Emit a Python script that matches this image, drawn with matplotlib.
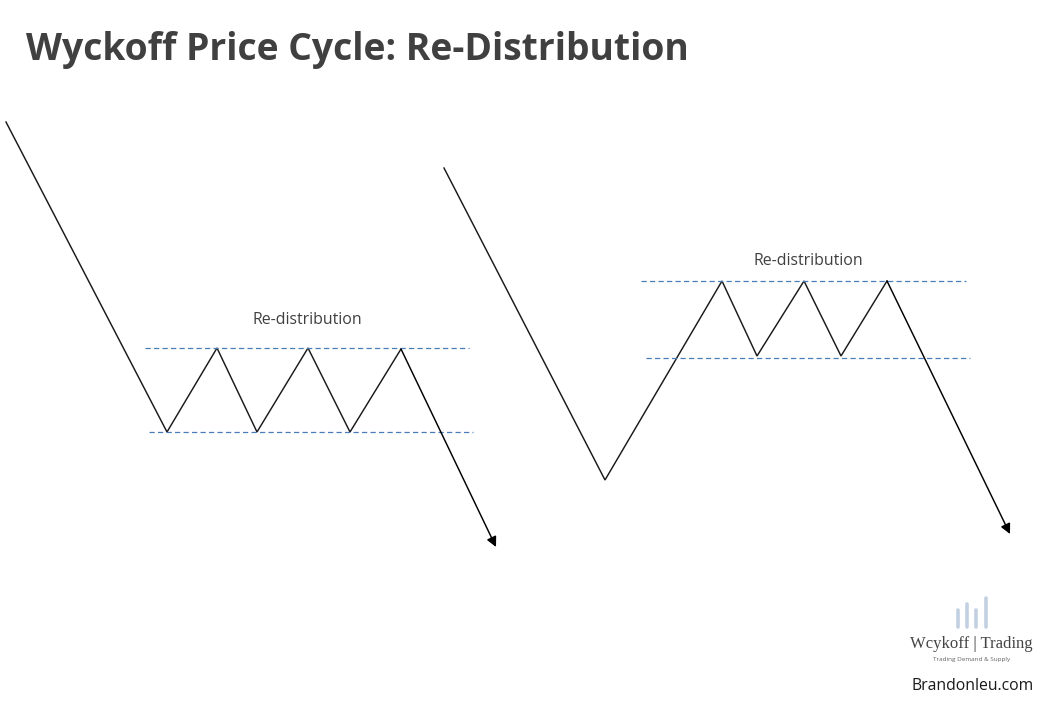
import matplotlib
matplotlib.use('Agg')
import matplotlib.pyplot as plt

# price paths (pixel coordinates)
left_x = [6, 167, 217, 257, 308, 350, 401, 496]
left_y = [122, 432, 348, 432, 348, 432, 349, 547]
right_x = [444, 605, 722, 757, 804, 841, 887, 1010]
right_y = [168, 480, 281, 356, 281, 356, 281, 534]

# dashed range lines: x start, x end, y
range_x0 = [145, 149, 641, 646]
range_x1 = [469, 473, 966, 970]
range_y = [348, 432, 281, 358]

label_text = 'Re-distribution'
label_x = [307, 808]
label_y = [320, 261]

# logo bars
logo_x = [958, 966.5, 976, 985.5]
logo_top = [610, 604, 610, 598]
logo_bottom = 627

title_text = 'Wyckoff Price Cycle: Re-Distribution'

fig = plt.figure(figsize=(10.54, 7.18), dpi=100)
ax = fig.add_axes([0, 0, 1, 1])
ax.set_xlim(0, 1054)
ax.set_ylim(718, 0)
ax.axis('off')

ax.text(26, 50, title_text, fontsize=26.85, fontweight='bold', family='Open Sans',
        color='#404040', va='center', ha='left')

# the two price paths, last segment carries the arrow
for xs, ys in [(left_x, left_y), (right_x, right_y)]:
    ax.plot(xs[:-1], ys[:-1], color='#1a1a1a', lw=1.05, solid_joinstyle='miter')
    ax.annotate('', xy=(xs[-1], ys[-1]), xytext=(xs[-2], ys[-2]),
                arrowprops=dict(arrowstyle='-|>', color='black', lw=1.05,
                                mutation_scale=15, shrinkA=0, shrinkB=0))

for x0, x1, y in zip(range_x0, range_x1, range_y):
    ax.plot([x0, x1], [y, y], color='#4a7ebb', lw=0.9, dashes=(4.2, 2.6))

for x, y in zip(label_x, label_y):
    ax.text(x, y, label_text, fontsize=11.4, family='Open Sans', color='#404040',
            ha='center', va='center')

# logo in the corner
for x, top in zip(logo_x, logo_top):
    ax.plot([x, x], [top, logo_bottom], color='#c3d0e2', lw=2.6, solid_capstyle='round')
ax.text(971.5, 644, 'Wcykoff | Trading', fontsize=12, family='Liberation Serif',
        color='#444444', ha='center', va='center')
ax.text(972, 659, 'Trading Demand & Supply', fontsize=4.6, family='Open Sans',
        color='#666666', ha='center', va='center')
ax.text(973, 686, 'Brandonleu.com', fontsize=11.3, family='Open Sans',
        color='#1a1a1a', ha='center', va='center')

fig.savefig('out.png', dpi=100, facecolor='white')
